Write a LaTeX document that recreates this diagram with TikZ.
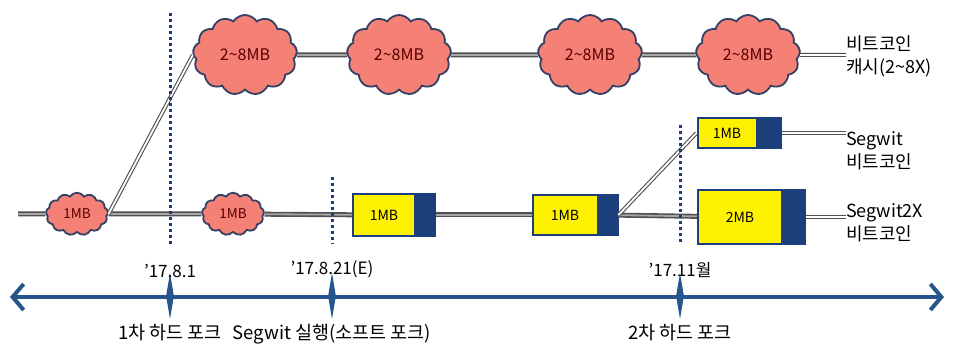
\documentclass[tikz,border=0pt]{standalone}
\usepackage{fontspec}
\setmainfont{Noto Sans CJK KR}
\usepackage{tikz}
\usetikzlibrary{arrows.meta,positioning,shapes.symbols,shapes.geometric}
\definecolor{cloudred}{RGB}{244,128,118}
\definecolor{cloudline}{RGB}{52,64,100}
\definecolor{blkblue}{RGB}{28,62,122}
\definecolor{axisblue}{RGB}{40,84,140}
\definecolor{linegray}{RGB}{80,80,80}

\begin{document}
\begin{tikzpicture}[x=1pt,y=-1pt,
      blob/.style={cloud, cloud puffs=13, cloud puff arc=115, draw=cloudline, line width=1.8pt,
                   fill=cloudred, inner sep=0pt, font=\fontsize{16}{16}\selectfont, text=red!35!black},
      bigblob/.style={blob, minimum width=104pt, minimum height=80pt},
      smallblob/.style={blob, minimum width=62pt, minimum height=42pt, font=\fontsize{13.5}{13.5}\selectfont},
      blk/.style={draw=blkblue, line width=2pt, fill=yellow, inner sep=0pt, font=\fontsize{14}{14}\selectfont},
      blkend/.style={draw=blkblue, line width=2pt, fill=blkblue, inner sep=0pt},
      link/.style={draw=linegray, line width=1.6pt, double=gray!70, double distance=1.8pt},
      tail/.style={draw=linegray, line width=1.1pt, double=white, double distance=1.8pt},
      fork/.style={draw=blkblue, line width=3pt, dash pattern=on 3pt off 3pt},
      forktick/.style={diamond, fill=axisblue, inner sep=0pt, minimum width=8pt, minimum height=46pt},
      lbl/.style={anchor=west, align=left, inner sep=0pt, font=\fontsize{18}{23}\selectfont},
      datelbl/.style={font=\fontsize{17}{17}\selectfont, inner sep=0pt},
      evtlbl/.style={font=\fontsize{18.5}{18.5}\selectfont, inner sep=0pt}
  ]
    \useasboundingbox (0,0) rectangle (954,344);
    % bitcoin cash chain
    \node[bigblob] (tc1) at (245,55) {2\textasciitilde8MB};
    \node[bigblob] (tc2) at (399,55) {2\textasciitilde8MB};
    \node[bigblob] (tc3) at (590,55) {2\textasciitilde8MB};
    \node[bigblob] (tc4) at (748,55) {2\textasciitilde8MB};
    \node[lbl] (bch) at (846,56) {비트코인\\캐시(2\textasciitilde8X)};
    % segwit chain
    \node[blk, minimum width=59pt, minimum height=30pt] (m1) at (727,133) {1MB};
    \node[blkend, minimum width=22pt, minimum height=30pt, right=0pt of m1] (m1r) {};
    \node[lbl] (sw) at (846,151) {Segwit\\비트코인};
    % segwit2x chain
    \node[smallblob] (bl1) at (77,214) {1MB};
    \node[smallblob] (bl2) at (233,214) {1MB};
    \node[blk, minimum width=62pt, minimum height=42pt] (b1) at (384,215) {1MB};
    \node[blkend, minimum width=18pt, minimum height=42pt, right=0pt of b1] (b1r) {};
    \node[blk, minimum width=65pt, minimum height=40pt] (b2) at (565,215) {1MB};
    \node[blkend, minimum width=18pt, minimum height=40pt, right=0pt of b2] (b2r) {};
    \node[blk, minimum width=84pt, minimum height=54pt] (b3) at (740,217) {2MB};
    \node[blkend, minimum width=21pt, minimum height=54pt, right=0pt of b3] (b3r) {};
    \node[lbl] (s2x) at (846,223) {Segwit2X\\비트코인};
    \coordinate (start) at (18,214);
    % connectors
    \draw[link] (tc1) -- (tc2);
    \draw[link] (tc2) -- (tc3);
    \draw[link] (tc3) -- (tc4);
    \draw[tail] (tc4) -- (bch.west |- tc4);
    \draw[tail] (m1r) -- (sw.west |- m1r);
    \draw[link] (start) -- (bl1);
    \draw[link] (bl1) -- (bl2);
    \draw[link] (bl2) -- (b1);
    \draw[link] (b1r) -- (b2);
    \draw[link] (b2r) -- (b3);
    \draw[tail] (b3r) -- (s2x.west |- b3r);
    \draw[tail] (bl1.east) -- (tc1.west);
    \draw[tail] (b2r.east) -- (m1.west);
    % timeline
    \coordinate (tl) at (10,297);
    \coordinate (tr) at (944,297);
    \draw[axisblue, line width=4.5pt, {Straight Barb[length=11pt,width=26pt,line width=4pt]}-{Straight Barb[length=11pt,width=26pt,line width=4pt]}] (tl) -- (tr);
    \node[forktick] (t1) at (170,296) {};
    \node[forktick] (t2) at (332,296) {};
    \node[forktick] (t3) at (680,296) {};
    \node[datelbl, above=-5pt of t1] (d1) {'17.8.1};
    \node[datelbl, above=-5pt of t2] (d2) {'17.8.21(E)};
    \node[datelbl, above=-5pt of t3] (d3) {'17.11월};
    \node[evtlbl, below=5pt of t1] (e1) {1차 하드 포크};
    \node[evtlbl, below=5pt of t2] (e2) {Segwit 실행(소프트 포크)};
    \node[evtlbl, below=5pt of t3] (e3) {2차 하드 포크};
    % fork markers
    \coordinate (f1a) at (170,13);  \coordinate (f1b) at (170,244);
    \coordinate (f2a) at (332,177); \coordinate (f2b) at (332,244);
    \coordinate (f3a) at (680,125); \coordinate (f3b) at (680,244);
    \draw[fork] (f1a) -- (f1b);
    \draw[fork] (f2a) -- (f2b);
    \draw[fork] (f3a) -- (f3b);
\end{tikzpicture}
\end{document}
